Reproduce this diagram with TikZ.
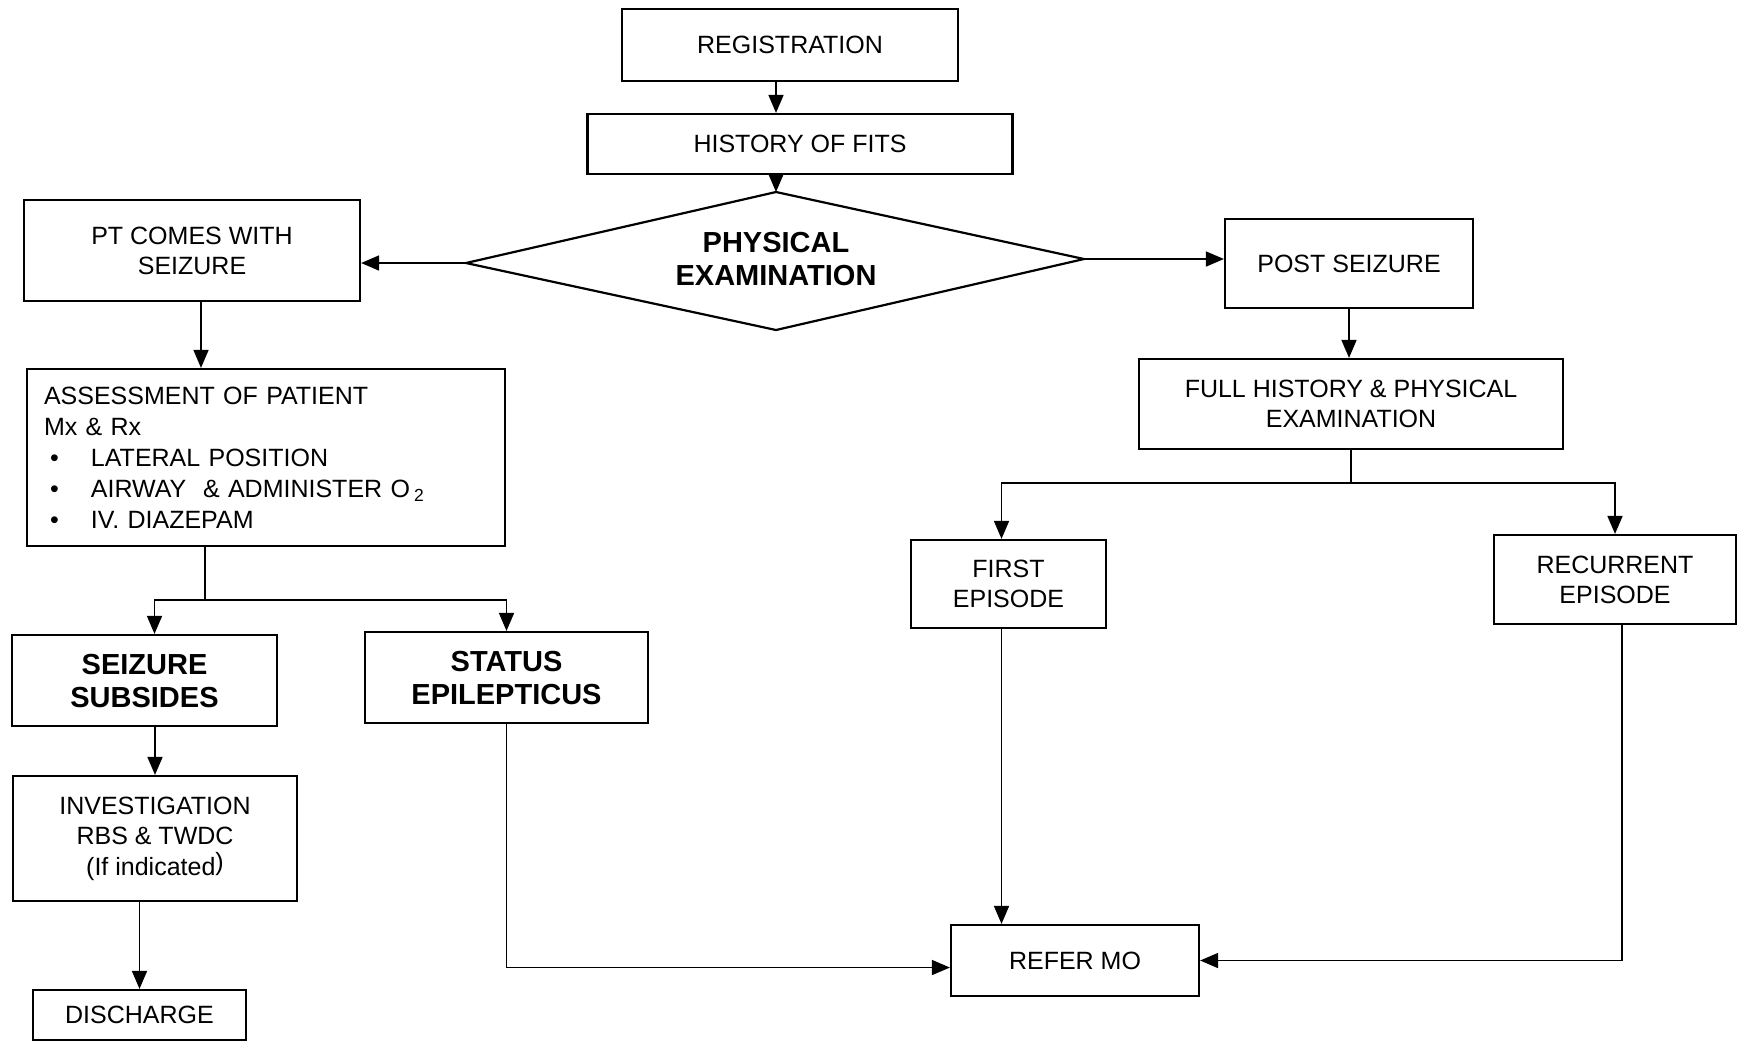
\documentclass[tikz,border=0pt]{standalone}
\usepackage{fontspec}
\setmainfont{Liberation Sans}
\usetikzlibrary{arrows.meta}

\tikzset{
  box/.style={draw, line width=1.1pt, rectangle, inner sep=0pt, align=center,
    font=\fontsize{12.5}{15}\selectfont},
  boldbox/.style={box, font=\fontsize{14.5}{16.5}\selectfont\bfseries},
  link/.style={line width=0.8pt},
  arr/.style={link, -{Triangle[length=9pt,width=7.5pt]}},
}

\begin{document}
\begin{tikzpicture}[x=0.5pt, y=-0.5pt]
\useasboundingbox (0,0) rectangle (1738,1041);

% central column
\node[box, minimum width=168pt, minimum height=36pt] (reg) at (790,45) {REGISTRATION};
\node[box, minimum width=212.5pt, minimum height=30pt] (hist) at (800,144) {HISTORY OF FITS};

% decision diamond, drawn from its four corners
\coordinate (peN) at (776,192);
\coordinate (peE) at (1084,259);
\coordinate (peS) at (776,330);
\coordinate (peW) at (466,263);
\draw[line width=1.1pt, line join=miter] (peN) -- (peE) -- (peS) -- (peW) -- cycle;
\node[align=center, inner sep=0pt, font=\fontsize{14.5}{16.5}\selectfont\bfseries] (pe) at (776,259)
  {PHYSICAL\\EXAMINATION};

% left branch: patient arrives seizing
\node[box, minimum width=168pt, minimum height=50.5pt] (pt) at (192,250.5) {PT COMES WITH\\SEIZURE};
\node[draw, line width=1.1pt, rectangle, inner xsep=8.5pt, inner ysep=0pt,
      minimum width=239pt, minimum height=88.5pt, text width=222pt, align=left,
      font=\fontsize{12.5}{15.5}\selectfont] (assess) at (266,457.5)
  {ASSESSMENT OF PATIENT\\
   Mx \& Rx\\
   \hspace*{3pt}\makebox[20.5pt][l]{\textbullet}LATERAL POSITION\\
   \hspace*{3pt}\makebox[20.5pt][l]{\textbullet}AIRWAY\ \ \& ADMINISTER O\,\textsubscript{2}\\
   \hspace*{3pt}\makebox[20.5pt][l]{\textbullet}IV. DIAZEPAM};
\node[boldbox, minimum width=132.5pt, minimum height=45.5pt] (seiz) at (144.5,680.5) {SEIZURE\\SUBSIDES};
\node[boldbox, minimum width=141.5pt, minimum height=45.5pt] (status) at (506.5,677.5) {STATUS\\EPILEPTICUS};
\node[box, minimum width=142pt, minimum height=62.5pt, font=\fontsize{12.5}{15.25}\selectfont]
  (invest) at (155,838.5) {INVESTIGATION\\RBS \& TWDC\\(If indicated\raisebox{2.5pt}{)}};
\node[box, minimum width=106.5pt, minimum height=25pt] (disch) at (139.5,1015) {DISCHARGE};

% right branch: after the seizure
\node[box, minimum width=124pt, minimum height=44.5pt] (post) at (1349,263.5) {POST SEIZURE};
\node[box, minimum width=212pt, minimum height=45pt] (full) at (1351,404) {FULL HISTORY \& PHYSICAL\\EXAMINATION};
\node[box, minimum width=97.5pt, minimum height=44pt] (first) at (1008.5,584) {FIRST\\EPISODE};
\node[box, minimum width=121pt, minimum height=44.5pt] (recur) at (1615,579.5) {RECURRENT\\EPISODE};
\node[box, minimum width=124pt, minimum height=35.5pt] (refer) at (1075,960.5) {REFER MO};

% connectors
\draw[arr] (reg.south -| peN) -- (hist.north -| peN);
\draw[arr] (hist.south -| peN) -- (peN);
\draw[arr] (peW) -- (peW -| pt.east);
\draw[arr] (peE) -- (peE -| post.west);

\draw[arr] ([xshift=4.5pt]pt.south) -- ([xshift=4.5pt]pt.south |- assess.north);
\coordinate (ja) at (205,600);
\draw[link] (assess.south -| ja) -- (ja);
\draw[arr] (ja) -| ([xshift=5pt]seiz.north);
\draw[arr] (ja) -| (status.north);
\draw[arr] (invest.north |- seiz.south) -- (invest.north);
\draw[arr] (disch.north |- invest.south) -- (disch.north);
\draw[arr] (status.south) |- ([yshift=-3.5pt]refer.west);

\draw[arr] (post.south) -- (post.south |- full.north);
\coordinate (jb) at (1351,483);
\draw[link] (full.south) -- (jb);
\draw[arr] (jb) -| ([xshift=-3.5pt]first.north);
\draw[arr] (jb) -| (recur.north);
\draw[arr] ([xshift=-3.5pt]first.south) -- ([xshift=-3.5pt]first.south |- refer.north);
\draw[arr] ([xshift=3.5pt]recur.south) |- (refer.east);
\end{tikzpicture}
\end{document}
